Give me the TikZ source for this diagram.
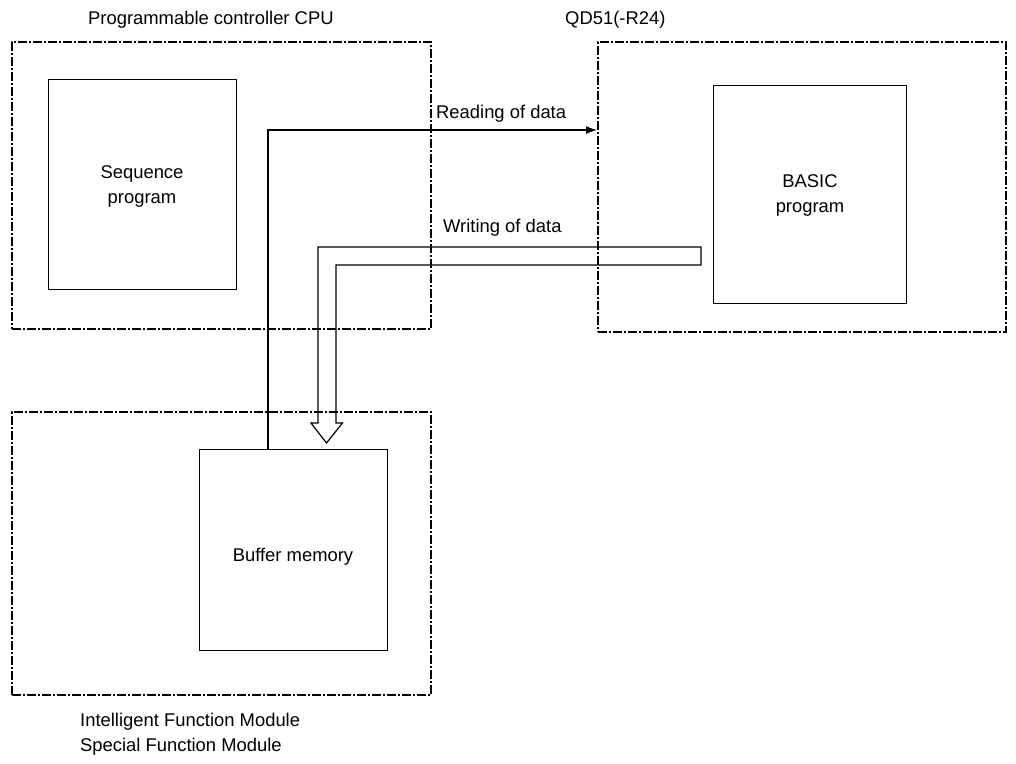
\documentclass[tikz,border=0pt]{standalone}
\usepackage{fontspec}
\setmainfont{Liberation Sans}
\usetikzlibrary{arrows.meta}
\begin{document}
\begin{tikzpicture}[x=1pt,y=-1pt,
  every node/.style={font=\fontsize{18.4}{25}\selectfont, inner sep=0pt},
  module/.style={draw, line width=1.7pt, dash pattern=on 9pt off 2pt on 2pt off 2pt, anchor=north west},
  inner/.style={draw, line width=1.3pt, anchor=north west, align=center},
  lbl/.style={anchor=base, align=left},
  link/.style={line width=1.2pt}
]
\useasboundingbox (0,0) rectangle (1016,763);
% modules
\node[module, minimum width=419pt, minimum height=287pt] (cpu) at (11,41) {};
\node[module, minimum width=408pt, minimum height=290pt] (qd) at (597,41) {};
\node[module, minimum width=419pt, minimum height=283pt] (ifm) at (11,411) {};
% inner boxes
\node[inner, minimum width=188pt, minimum height=210pt] (seq) at (48,79) {};
\node[inner, minimum width=193pt, minimum height=218pt] (basic) at (713,85) {};
\node[inner, minimum width=188pt, minimum height=201pt] (bm) at (199,449) {};
% texts
\node[lbl, anchor=base west] (tcpu) at (88,24) {Programmable controller CPU};
\node[lbl, anchor=base west] (tqd) at (565,24) {QD51(-R24)};
\node[lbl, anchor=base west] (tifm1) at (80,726) {Intelligent Function Module};
\node[lbl, anchor=base west] (tifm2) at (80,751) {Special Function Module};
\node[lbl, anchor=base] (tseq1) at (142,178) {Sequence};
\node[lbl, anchor=base] (tseq2) at (142,203) {program};
\node[lbl, anchor=base] (tbas1) at (810,187) {BASIC};
\node[lbl, anchor=base] (tbas2) at (810,212) {program};
\node[lbl, anchor=base] (tbm) at (293,561) {Buffer memory};
\node[lbl, anchor=base west] (tread) at (436,118) {Reading of data};
\node[lbl, anchor=base west] (twrite) at (443,232) {Writing of data};
% reading connector
\coordinate (rdstart) at (268,449);
\coordinate (rdend) at (597,130);
\draw[link, -{Latex[length=11pt,width=8pt]}] (rdstart) |- (rdend);
% writing hollow arrow
\coordinate (wrA) at (701,247);
\coordinate (wrB) at (701,265);
\draw[line width=1.2pt, line join=miter] (wrA) -- (318,247) -- (318,423) -- (311,423) -- (326.5,443)
  -- (342.5,423) -- (336,423) -- (336,265) -- (wrB) -- cycle;
\end{tikzpicture}
\end{document}
